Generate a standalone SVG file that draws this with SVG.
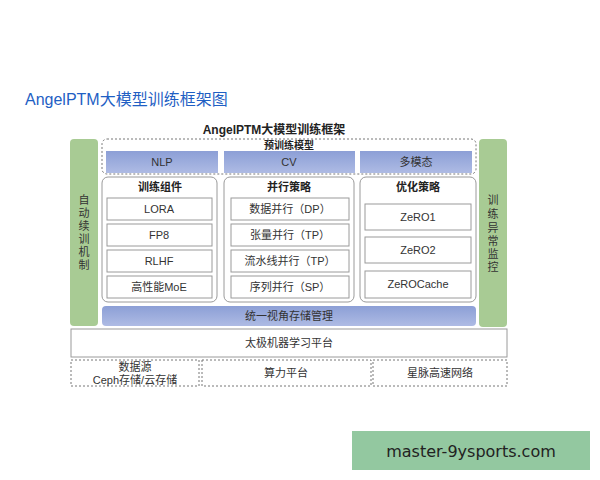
<svg xmlns="http://www.w3.org/2000/svg" width="600" height="480" viewBox="0 0 600 480">
<style>
text{font-family:"Liberation Sans","Noto Sans CJK SC",sans-serif;fill:#333;text-anchor:middle}
.t{font-size:11px}
.b{font-weight:bold;fill:#222}
.green{fill:#a8cb94}
.bar{fill:url(#bg)}
.panel{fill:#fff;stroke:#9a9a9a;stroke-width:1}
.item{fill:#fff;stroke:#9a9a9a;stroke-width:1}
.dash{fill:none;stroke:#777;stroke-width:1;stroke-dasharray:2 2}
</style>
<defs>
<linearGradient id="bg" x1="0" y1="0" x2="0" y2="1">
<stop offset="0" stop-color="#8c9fd6"/>
<stop offset="1" stop-color="#aebbe4"/>
</linearGradient>
</defs>
<rect width="600" height="480" fill="#fff"/>
<text x="25" y="105" style="font-size:16px;fill:#1f5fc4;text-anchor:start">AngelPTM大模型训练框架图</text>
<text x="274" y="134" class="b" style="font-size:12px">AngelPTM大模型训练框架</text>

<g id="auto-resume">
<rect x="70" y="139" width="28" height="187" rx="4" class="green"/>
<text x="84" y="204" class="t">自</text>
<text x="84" y="217" class="t">动</text>
<text x="84" y="230" class="t">续</text>
<text x="84" y="243" class="t">训</text>
<text x="84" y="256" class="t">机</text>
<text x="84" y="269" class="t">制</text>
</g>
<g id="monitor">
<rect x="479" y="139" width="28" height="188" rx="4" class="green"/>
<text x="493" y="204" class="t">训</text>
<text x="493" y="218" class="t">练</text>
<text x="493" y="232" class="t">异</text>
<text x="493" y="245" class="t">常</text>
<text x="493" y="258" class="t">监</text>
<text x="493" y="271" class="t">控</text>
</g>

<g id="pretrain">
<rect x="102" y="139" width="374" height="35" rx="5" class="dash"/>
<text x="289" y="149" class="b" style="font-size:10px">预训练模型</text>
<rect x="106" y="151" width="112" height="22" class="bar"/>
<text x="162" y="166" class="t">NLP</text>
<rect x="224" y="151" width="131" height="22" class="bar"/>
<text x="289" y="166" class="t">CV</text>
<rect x="360" y="151" width="112" height="22" class="bar"/>
<text x="416" y="166" class="t">多模态</text>
</g>

<g id="components">
<rect x="102" y="177" width="115" height="125" rx="6" class="panel"/>
<text x="160" y="191" class="t b">训练组件</text>
<rect x="107" y="198" width="105" height="22" class="item"/>
<text x="159" y="213" class="t">LORA</text>
<rect x="107" y="224" width="105" height="22" class="item"/>
<text x="159" y="239" class="t">FP8</text>
<rect x="107" y="250" width="105" height="22" class="item"/>
<text x="159" y="265" class="t">RLHF</text>
<rect x="107" y="276" width="105" height="22" class="item"/>
<text x="159" y="291" class="t">高性能MoE</text>
</g>

<g id="parallel">
<rect x="224" y="177" width="130" height="125" rx="6" class="panel"/>
<text x="289" y="191" class="t b">并行策略</text>
<rect x="231" y="198" width="118" height="22" class="item"/>
<text x="290" y="213" class="t">数据并行（DP）</text>
<rect x="231" y="224" width="118" height="22" class="item"/>
<text x="290" y="239" class="t">张量并行（TP）</text>
<rect x="231" y="250" width="118" height="22" class="item"/>
<text x="290" y="265" class="t">流水线并行（TP）</text>
<rect x="231" y="276" width="118" height="22" class="item"/>
<text x="290" y="291" class="t">序列并行（SP）</text>
</g>

<g id="optimize">
<rect x="360" y="177" width="116" height="125" rx="6" class="panel"/>
<text x="418" y="191" class="t b">优化策略</text>
<rect x="365" y="204" width="106" height="26" class="item"/>
<text x="418" y="221" class="t">ZeRO1</text>
<rect x="365" y="237" width="106" height="26" class="item"/>
<text x="418" y="254" class="t">ZeRO2</text>
<rect x="365" y="271" width="106" height="27" class="item"/>
<text x="418" y="288" class="t">ZeROCache</text>
</g>

<g id="storage">
<rect x="102" y="306" width="374" height="20" rx="4" class="bar"/>
<text x="289" y="320" class="t">统一视角存储管理</text>
</g>

<g id="taiji">
<rect x="71" y="329" width="436" height="28" class="item"/>
<text x="289" y="347" class="t">太极机器学习平台</text>
</g>

<g id="datasource">
<rect x="71" y="360" width="128" height="26" class="dash"/>
<text x="135" y="371" class="t">数据源</text>
<text x="135" y="384" class="t">Ceph存储/云存储</text>
</g>
<g id="compute">
<rect x="202" y="360" width="169" height="26" class="dash"/>
<text x="286" y="377" class="t">算力平台</text>
</g>
<g id="network">
<rect x="373" y="360" width="134" height="26" class="dash"/>
<text x="440" y="377" class="t">星脉高速网络</text>
</g>

<g id="connectors"></g>

<g id="watermark">
<rect x="352" y="431" width="238" height="39" fill="#93c8a0"/>
<text x="471" y="457" style="font-size:16px;fill:#222;font-family:'DejaVu Sans','Liberation Sans',sans-serif">master-9ysports.com</text>
</g>
</svg>
